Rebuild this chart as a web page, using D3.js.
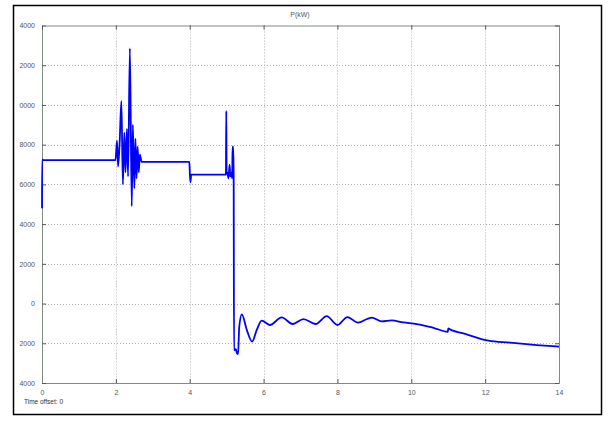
<!DOCTYPE html>
<html>
<head>
<meta charset="utf-8">
<script src="https://cdn.jsdelivr.net/npm/d3@7/dist/d3.min.js"></script>
<style>
  html, body { margin: 0; padding: 0; background: #fff; }
  svg { display: block; }
  text { font-family: "Liberation Sans", Arial, sans-serif; }
</style>
</head>
<body>
<script>
// ---- data ----
const timeValues = [
  0, 0.004, 0.05, 0.3, 0.7, 1.0, 1.4, 1.8, 1.99,
  2.03, 2.06, 2.10, 2.15, 2.19, 2.23, 2.26, 2.30, 2.33, 2.38, 2.43, 2.46, 2.50, 2.53, 2.56, 2.59, 2.62, 2.65, 2.70,
  3.0, 3.5, 3.99, 4.005, 4.02, 4.04, 4.5, 4.98,
  4.99, 5.0, 5.02, 5.05, 5.08, 5.10, 5.13, 5.15, 5.16, 5.18, 5.19, 5.20, 5.25, 5.28, 5.31,
  5.34, 5.41, 5.55, 5.69, 5.82, 5.95, 6.17, 6.49, 6.79, 7.08, 7.41, 7.71, 8.0, 8.27, 8.56,
  8.79, 8.93, 9.2, 9.47, 9.78, 10.15, 10.6, 10.99, 11.0, 11.05, 11.5, 12.09, 12.67, 13.4, 14
];
const powerValues = [
  4800, 7250, 7220, 7220, 7220, 7220, 7220, 7220, 7220,
  8200, 6900, 8000, 10200, 6000, 8600, 6600, 8800, 6400, 12850, 4900, 9000, 5800, 8300, 6300, 7900, 6600, 7500, 7130,
  7130, 7130, 7130, 6490, 6100, 6490, 6490, 6490,
  9700, 6500, 6600, 6300, 7000, 6400, 6600, 6300, 7900, 7900, 6400, -2350, -2300, -2500, -2550,
  -1200, -540, -1350, -1920, -1300, -860, -1080, -700, -1030, -780, -1030, -630, -1080, -680, -960,
  -790, -710, -900, -850, -950, -1030, -1220, -1420, -1250, -1300, -1550, -1870, -1970, -2090, -2170
];
const xTicks = [0, 2, 4, 6, 8, 10, 12, 14];
const yTicks = [14000, 12000, 10000, 8000, 6000, 4000, 2000, 0, -2000, -4000];
const yTickLabels = ["4000", "2000", "0000", "8000", "6000", "4000", "2000", "0", "2000", "4000"];
const chartTitle = "P(kW)";
const offsetText = "Time offset:  0";

// ---- layout ----
const W = 609, H = 423;
const L = 42, R = 559, T = 25.5, B = 383;

const svg = d3.select("body").append("svg").attr("width", W).attr("height", H);

svg.append("rect").attr("x", 13.5).attr("y", 5.5).attr("width", 588).attr("height", 409)
  .attr("fill", "#fff").attr("stroke", "#000").attr("stroke-width", 1.5);

const x = d3.scaleLinear().domain([0, 14]).range([L, R]);
const y = d3.scaleLinear().domain([-4000, 14000]).range([B, T]);

const axisColor = "#7f8c7f";
const gridColor = "#b0b0b0";
const labelColor = "#555";

// grid
const grid = svg.append("g");
grid.selectAll("line.vx").data(xTicks.slice(1, -1)).join("line")
  .attr("x1", d => Math.round(x(d)) + 0.5).attr("x2", d => Math.round(x(d)) + 0.5)
  .attr("y1", T).attr("y2", B)
  .attr("stroke", gridColor).attr("stroke-dasharray", "1,2").attr("stroke-width", 1);
grid.selectAll("line.hy").data(yTicks.slice(1, -1)).join("line")
  .attr("y1", d => Math.round(y(d)) + 0.5).attr("y2", d => Math.round(y(d)) + 0.5)
  .attr("x1", L).attr("x2", R)
  .attr("stroke", gridColor).attr("stroke-dasharray", "1,2").attr("stroke-width", 1);

// axes via d3 axis (bottom & left with labels), top & right ticks only
const fontSize = 7;
const xAxis = svg.append("g").attr("transform", `translate(0,${B})`)
  .call(d3.axisBottom(x).tickValues(xTicks).tickSizeInner(-4).tickSizeOuter(0).tickPadding(7));
const yAxis = svg.append("g").attr("transform", `translate(${L},0)`)
  .call(d3.axisLeft(y).tickValues(yTicks).tickSizeInner(-4).tickSizeOuter(0).tickPadding(7)
    .tickFormat((d, i) => yTickLabels[i]));
const xTop = svg.append("g").attr("transform", `translate(0,${T})`)
  .call(d3.axisTop(x).tickValues(xTicks).tickSizeInner(-4).tickSizeOuter(0).tickFormat(""));
const yRight = svg.append("g").attr("transform", `translate(${R},0)`)
  .call(d3.axisRight(y).tickValues(yTicks).tickSizeInner(-4).tickSizeOuter(0).tickFormat(""));

[xAxis, yAxis, xTop, yRight].forEach(g => {
  g.select(".domain").attr("stroke", axisColor).attr("stroke-width", 1);
  g.selectAll(".tick line").attr("stroke", "#555");
  g.selectAll(".tick text").attr("fill", labelColor).attr("font-size", fontSize)
    .attr("font-family", "'Liberation Sans', Arial, sans-serif");
});

// data line
const pts = timeValues.map((t, i) => [t, powerValues[i]]);
const line = d3.line().x(d => x(d[0])).y(d => y(d[1])).curve(d3.curveMonotoneX);
svg.append("path").datum(pts)
  .attr("d", line).attr("fill", "none")
  .attr("stroke", "#0000ff").attr("stroke-width", 1.8).attr("stroke-linejoin", "round");

// texts
svg.append("text").attr("x", 300).attr("y", 17).attr("text-anchor", "middle")
  .attr("font-size", fontSize).attr("fill", labelColor).text(chartTitle);
svg.append("text").attr("x", 24).attr("y", 404)
  .attr("font-size", 6.5).attr("fill", "#333").text(offsetText);
</script>
</body>
</html>
